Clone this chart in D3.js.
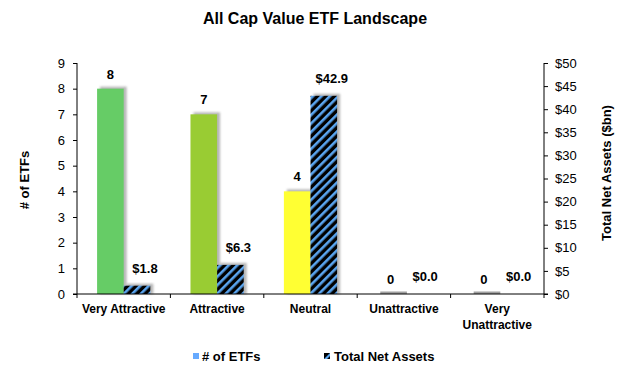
<!DOCTYPE html>
<html><head><meta charset="utf-8">
<script src="https://cdn.jsdelivr.net/npm/d3@7"></script>
<style>body{margin:0;background:#fff}text{font-family:"Liberation Sans",Arial,sans-serif}</style>
</head><body>
<svg id="c" width="630" height="368"></svg>
<script>
const categories = ["Very Attractive","Attractive","Neutral","Unattractive","Very Unattractive"];
const etfCounts = [8,7,4,0,0];
const netAssets = [1.8,6.3,42.9,0.0,0.0];
const leftTicks = [0,1,2,3,4,5,6,7,8,9];
const rightTicks = [0,5,10,15,20,25,30,35,40,45,50];
const barColors = ["#66cc66","#99cc33","#ffff33","#66cc66","#66cc66"];

const svg = d3.select("#c");
const L = 77, R = 544, T = 63, B = 294;
const x = d3.scaleBand().domain(categories).range([L, R]);
const yL = d3.scaleLinear().domain([0, 9]).range([B, T]);
const yR = d3.scaleLinear().domain([0, 50]).range([B, T]);
const bw = x.bandwidth() * 0.285;

const defs = svg.append("defs");
const pat = defs.append("pattern").attr("id","hatch").attr("patternUnits","userSpaceOnUse")
  .attr("width",6).attr("height",6).attr("patternTransform","rotate(45)");
pat.append("rect").attr("width",6).attr("height",6).attr("fill","#000");
pat.append("rect").attr("width",2.6).attr("height",6).attr("fill","#5aa5f0");
defs.append("filter").attr("id","blur").append("feGaussianBlur").attr("stdDeviation",0.8);

// title
svg.append("text").attr("x",315).attr("y",24).attr("text-anchor","middle")
  .attr("font-size",16).attr("font-weight","bold").text("All Cap Value ETF Landscape");

// shadows
const g = svg.append("g");
categories.forEach((c,i)=>{
  const cx = x(c) + x.bandwidth()/2;
  const y1 = yL(etfCounts[i]), y2 = yR(netAssets[i]);
  if (etfCounts[i] > 0) {
    g.append("rect").attr("x",cx-bw+3).attr("y",y1-2).attr("width",bw).attr("height",B-y1+2)
      .attr("fill","#999").attr("opacity",0.7).attr("filter","url(#blur)");
  } else {
    g.append("rect").attr("x",cx-bw+3).attr("y",B-2.5).attr("width",bw).attr("height",2.5)
      .attr("fill","#a0a0a0");
  }
  if (netAssets[i] > 0) {
    g.append("rect").attr("x",cx+3).attr("y",y2-2).attr("width",bw).attr("height",B-y2+2)
      .attr("fill","#999").attr("opacity",0.7).attr("filter","url(#blur)");
  }
});
// bars
g.selectAll(".b1").data(categories).join("rect")
  .attr("x",c=>x(c)+x.bandwidth()/2-bw).attr("y",(c,i)=>yL(etfCounts[i]))
  .attr("width",bw).attr("height",(c,i)=>B-yL(etfCounts[i]))
  .attr("fill",(c,i)=>barColors[i]);
g.selectAll(".b2").data(categories).join("rect")
  .attr("x",c=>x(c)+x.bandwidth()/2).attr("y",(c,i)=>yR(netAssets[i]))
  .attr("width",bw).attr("height",(c,i)=>B-yR(netAssets[i]))
  .attr("fill","url(#hatch)");

// value labels
g.selectAll(".l1").data(categories).join("text")
  .attr("x",c=>x(c)+x.bandwidth()/2-bw/2).attr("y",(c,i)=>yL(etfCounts[i])-10)
  .attr("text-anchor","middle").attr("font-size",13).attr("font-weight","bold")
  .text((c,i)=>etfCounts[i]);
g.selectAll(".l2").data(categories).join("text")
  .attr("x",c=>x(c)+x.bandwidth()/2+bw/2+8).attr("y",(c,i)=>yR(netAssets[i])-13)
  .attr("text-anchor","middle").attr("font-size",13).attr("font-weight","bold")
  .text((c,i)=>"$"+netAssets[i].toFixed(1));

// axes
const axL = svg.append("g").attr("transform",`translate(${L},0)`)
  .call(d3.axisLeft(yL).tickValues(leftTicks).tickSize(4).tickPadding(8).tickFormat(d3.format("d")));
const axR = svg.append("g").attr("transform",`translate(${R},0)`)
  .call(d3.axisRight(yR).tickValues(rightTicks).tickSize(4).tickPadding(7).tickFormat(d=>"$"+d));
[axL,axR].forEach(a=>{
  a.select(".domain").attr("stroke","#000").attr("d",`M0,${T}V${B}`);
  a.selectAll("line").attr("stroke","#000");
  a.selectAll("text").attr("font-size",13).attr("fill","#000").attr("font-family","Liberation Sans, Arial, sans-serif");
});
const axB = svg.append("g").attr("transform",`translate(0,${B})`);
axB.append("line").attr("x1",L-4).attr("x2",R+4).attr("stroke","#000");
const bounds = categories.map(c=>x(c)).concat([R]);
axB.selectAll(".tk").data(bounds).join("line").attr("x1",d=>d).attr("x2",d=>d)
  .attr("y1",0).attr("y2",4).attr("stroke","#000");
categories.forEach(c=>{
  const cx = x(c)+x.bandwidth()/2;
  const words = c==="Very Unattractive" ? ["Very","Unattractive"] : [c];
  words.forEach((w,k)=>{
    svg.append("text").attr("x",cx).attr("y",B+19+k*16).attr("text-anchor","middle")
      .attr("font-size",12).attr("font-weight","bold").text(w);
  });
});

// axis titles
svg.append("text").attr("transform","translate(29,180) rotate(-90)").attr("text-anchor","middle")
  .attr("font-size",13).attr("font-weight","bold").text("# of ETFs");
svg.append("text").attr("transform","translate(611,173) rotate(-90)").attr("text-anchor","middle")
  .attr("font-size",13).attr("font-weight","bold").text("Total Net Assets ($bn)");

// legend
const lg = svg.append("g");
lg.append("rect").attr("x",193).attr("y",353).attr("width",6).attr("height",6).attr("fill","#66aaff");
lg.append("text").attr("x",202).attr("y",361).attr("font-size",13).attr("font-weight","bold").text("# of ETFs");
lg.append("rect").attr("x",324).attr("y",353).attr("width",6).attr("height",6).attr("fill","#000");
lg.append("path").attr("d","M324,359L330,353L330,356L327,359Z").attr("fill","#5aa5f0");
lg.append("text").attr("x",334).attr("y",361).attr("font-size",13).attr("font-weight","bold").text("Total Net Assets");
</script>
</body></html>
